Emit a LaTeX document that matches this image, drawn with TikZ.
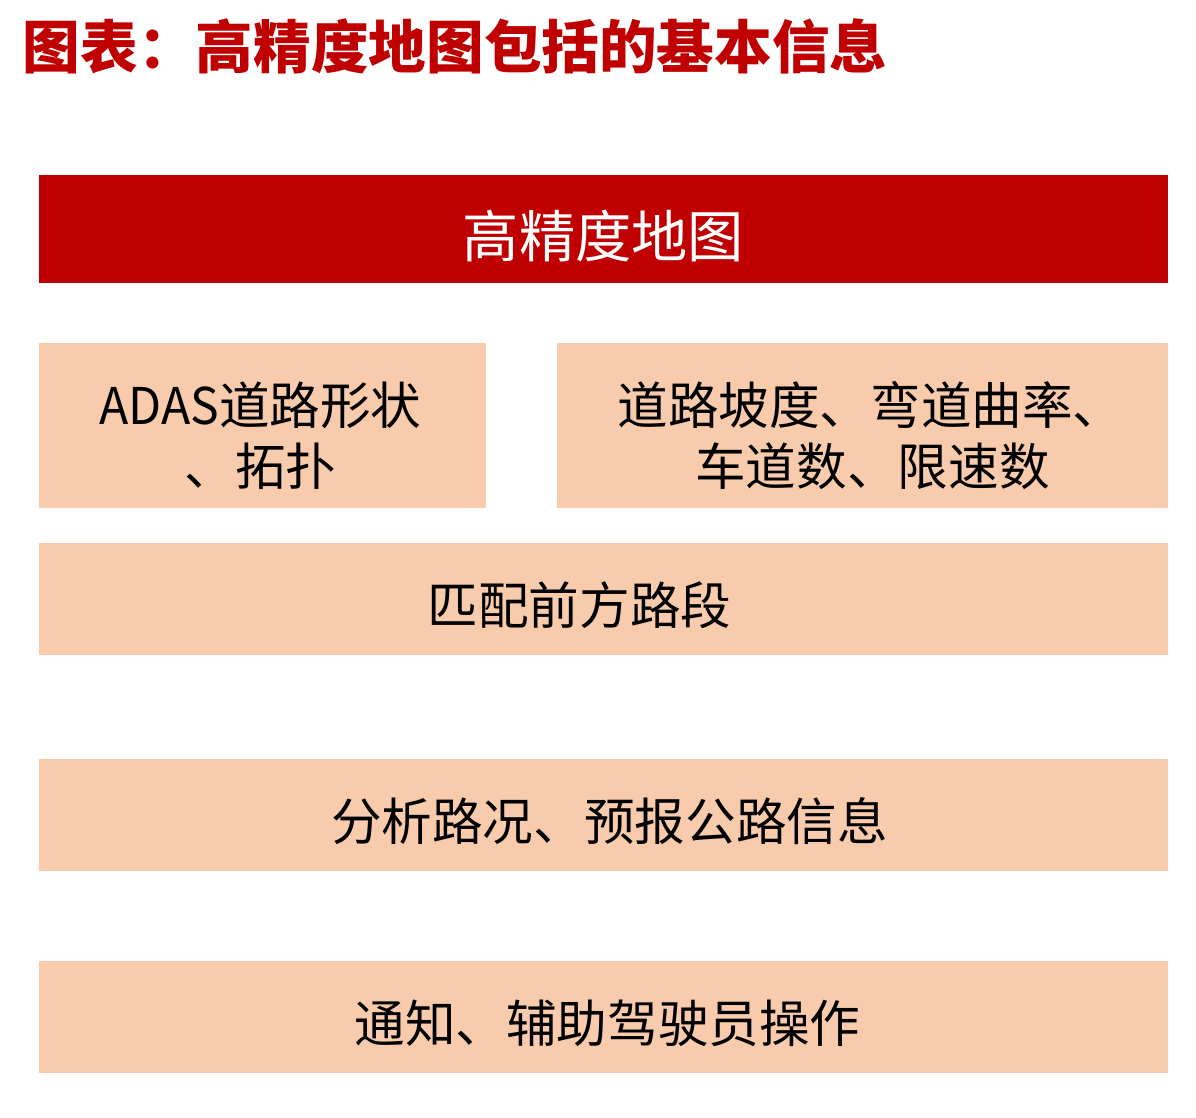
\documentclass[tikz,border=0pt]{standalone}
\usepackage{fontspec}
\setmainfont{Noto Sans CJK SC}
\usepackage{tikz}

\definecolor{hdred}{HTML}{C00000}
\definecolor{peach}{HTML}{F8CBAD}

\tikzset{
	headbox/.style={fill=hdred, inner sep=0pt},
	infobox/.style={fill=peach, inner sep=0pt},
	headtext/.style={text=white, font=\fontsize{40}{46}\selectfont, inner sep=0pt},
	infotext/.style={text=black, font=\fontsize{36}{43}\selectfont, inner sep=0pt, align=center},
}

\begin{document}
\begin{tikzpicture}
	\useasboundingbox (0, 0) rectangle (29.9, -27.95);
	\node [anchor=west, text=hdred, font=\fontsize{41}{46}\selectfont\bfseries] (title) at (0.45, -1.15) {图表：高精度地图包括的基本信息};
	% boxes
	\node [headbox, minimum width=28.225cm, minimum height=2.7cm] (hdmap) at (15.0875, -5.725) {};
	\node [infobox, minimum width=11.175cm, minimum height=4.125cm] (shape) at (6.5625, -10.6375) {};
	\node [infobox, minimum width=15.275cm, minimum height=4.125cm] (slope) at (21.5625, -10.6375) {};
	\node [infobox, minimum width=28.225cm, minimum height=2.8cm] (match) at (15.0875, -14.975) {};
	\node [infobox, minimum width=28.225cm, minimum height=2.8cm] (analyze) at (15.0875, -20.375) {};
	\node [infobox, minimum width=28.225cm, minimum height=2.8cm] (notify) at (15.0875, -25.425) {};
	% texts
	\node [headtext] (hdmap-t) at ([yshift=-0.18cm] hdmap.center) {高精度地图};
	\node [infotext] (shape-t) at ([xshift=-0.05cm, yshift=-0.25cm] shape.center) {\scalebox{0.95}[1]{ADAS}道路形状\\、拓扑};
	\node [infotext] (slope-t) at ([xshift=0.2cm, yshift=-0.25cm] slope.center) {道路坡度、弯道曲率、\\\hspace{0.1cm}车道数、限速数};
	\node [infotext] (match-t) at ([xshift=-0.6cm, yshift=-0.15cm] match.center) {匹配前方路段};
	\node [infotext] (analyze-t) at ([xshift=0.15cm, yshift=-0.15cm] analyze.center) {分析路况、预报公路信息};
	\node [infotext] (notify-t) at ([xshift=0.1cm, yshift=-0.15cm] notify.center) {通知、辅助驾驶员操作};
\end{tikzpicture}
\end{document}
